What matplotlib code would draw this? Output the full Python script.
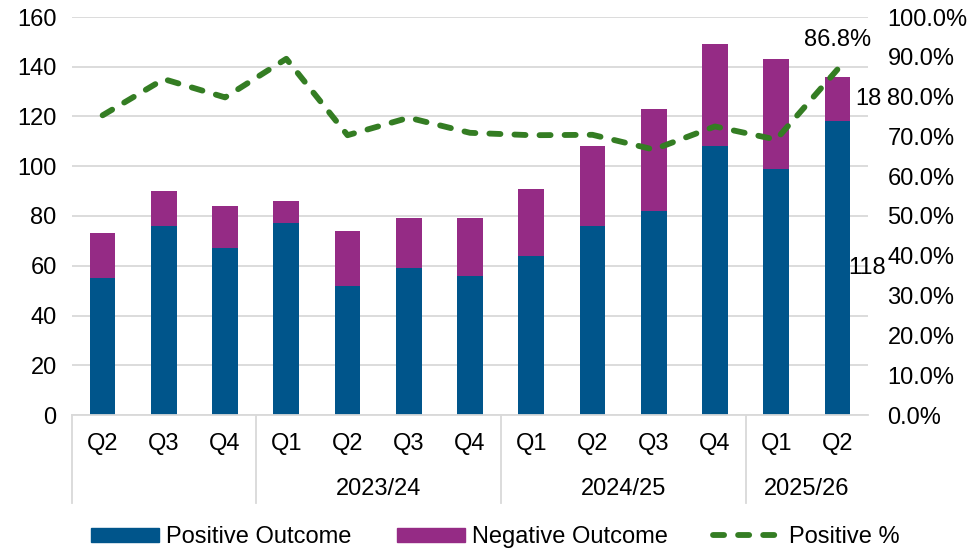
import matplotlib
matplotlib.use("Agg")
import matplotlib.pyplot as plt
from matplotlib.patches import Patch
from matplotlib.lines import Line2D
from matplotlib.ticker import FuncFormatter, MultipleLocator
import matplotlib.transforms as mtransforms

# Quarterly outcomes
quarters = ["Q2", "Q3", "Q4", "Q1", "Q2", "Q3", "Q4", "Q1", "Q2", "Q3", "Q4", "Q1", "Q2"]
years = ["", "2023/24", "2024/25", "2025/26"]
year_spans = [(0, 2), (3, 6), (7, 10), (11, 12)]
positive = [55, 76, 67, 77, 52, 59, 56, 64, 76, 82, 108, 99, 118]
negative = [18, 14, 17, 9, 22, 20, 23, 27, 32, 41, 41, 44, 18]
positive_pct = [75.3, 84.4, 79.8, 89.5, 70.3, 74.7, 70.9, 70.3, 70.4, 66.7, 72.5, 69.2, 86.8]

BLUE = "#00558B"
PURPLE = "#952B85"
GREEN = "#347D23"
GRID = "#D9D9D9"
FS = 17
DASH = (0, (1.9, 2.4))
LW = 4.2

plt.rcParams["font.family"] = ["Liberation Sans", "DejaVu Sans"]

fig = plt.figure(figsize=(9.72, 5.53), dpi=100)
ax = fig.add_axes([72 / 972, (553 - 415) / 553, (868 - 72) / 972, (415 - 17) / 553])

x = list(range(len(quarters)))
w = 0.42
ax.bar(x, positive, width=w, color=BLUE, zorder=2)
ax.bar(x, negative, width=w, bottom=positive, color=PURPLE, zorder=2)

ax.set_xlim(-0.5, len(quarters) - 0.5)
ax.set_ylim(0, 160)
ax.yaxis.set_major_locator(MultipleLocator(20))
ax.grid(axis="y", color=GRID, linewidth=1.3, zorder=0)
ax.set_axisbelow(True)
for s in ["top", "right", "left"]:
    ax.spines[s].set_visible(False)
ax.spines["bottom"].set_color(GRID)
ax.spines["bottom"].set_linewidth(1.3)
ax.tick_params(axis="y", length=0, pad=11, labelsize=FS)
ax.tick_params(axis="x", length=0, pad=13, labelsize=FS)
ax.set_xticks(x)
ax.set_xticklabels(quarters)

# Year grouping below the quarter labels
trans = mtransforms.blended_transform_factory(ax.transData, ax.transAxes)
px = 1 / (415 - 17)
for label, (a, b) in zip(years, year_spans):
    ax.text((a + b) / 2, -74 * px, label, transform=trans, ha="center", va="center", fontsize=FS)
for sep in [-0.5, 2.5, 6.5, 10.5]:
    ax.add_line(Line2D([sep, sep], [0, -88 * px], transform=trans, color=GRID,
                       linewidth=1.3, clip_on=False))

# Positive share on the secondary axis
ax2 = ax.twinx()
ax2.plot(x, [p / 100 for p in positive_pct], color=GREEN, linewidth=LW,
         linestyle=DASH, dash_capstyle="round", zorder=3)
ax2.set_ylim(0, 1)
ax2.yaxis.set_major_locator(MultipleLocator(0.1))
ax2.yaxis.set_major_formatter(FuncFormatter(lambda v, _: f"{v * 100:.1f}%"))
ax2.tick_params(axis="y", length=0, pad=14, labelsize=FS)
for s in ax2.spines.values():
    s.set_visible(False)

# Data labels for the latest quarter
last = len(quarters) - 1
ax.annotate(f"{positive[last]}", (last, positive[last] / 2), xytext=(30, 0),
            textcoords="offset pixels", ha="center", va="center", fontsize=FS, zorder=5)
ax.annotate(f"{negative[last]}", (last, positive[last] + negative[last] / 2), xytext=(31, 0),
            textcoords="offset pixels", ha="center", va="center", fontsize=FS, zorder=5)
ax2.annotate(f"{positive_pct[last]:.1f}%", (last, positive_pct[last] / 100), xytext=(0, 30),
             textcoords="offset pixels", ha="center", va="center", fontsize=FS, zorder=5)

handles = [Patch(color=BLUE), Patch(color=PURPLE),
           Line2D([], [], color=GREEN, linewidth=LW, linestyle=DASH,
                  dash_capstyle="round")]
fig.legend(handles, ["Positive Outcome", "Negative Outcome", "Positive %"],
           loc="center", bbox_to_anchor=(495 / 972, (553 - 537) / 553), ncol=3,
           frameon=False, fontsize=FS, handlelength=2.9, handleheight=0.55,
           handletextpad=0.3, columnspacing=1.9, borderaxespad=0)

fig.savefig("out.png", dpi=100)
